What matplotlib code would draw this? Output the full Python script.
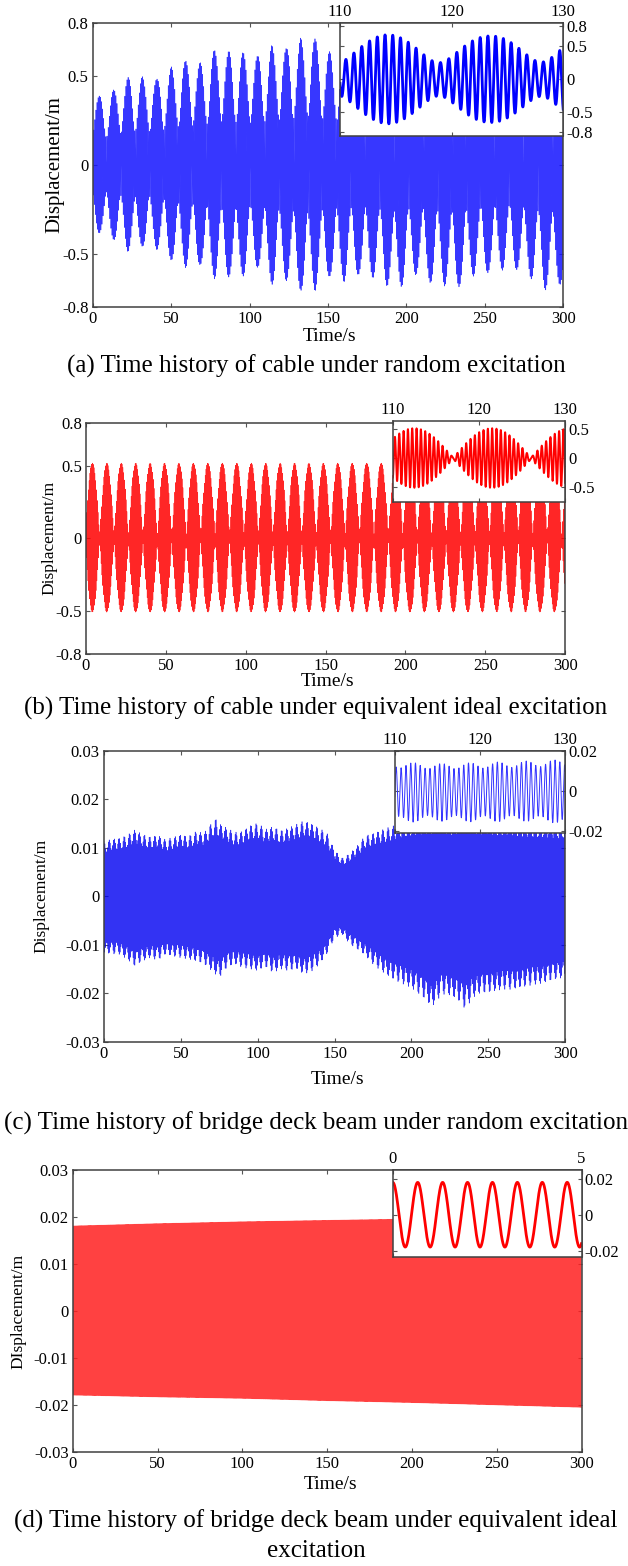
import numpy as np
import matplotlib
matplotlib.use('Agg')
import matplotlib.pyplot as plt

plt.rcParams['font.family'] = ['Liberation Serif', 'DejaVu Serif']
plt.rcParams['axes.unicode_minus'] = False
plt.rcParams['font.size'] = 12

# ---- data ----
time_ticks = [0, 50, 100, 150, 200, 250, 300]

# (a) cable, random excitation: beat peak times and peak values
a_peak_t = [4.1, 13.3, 22.5, 31.6, 40.8, 50.0, 59.2, 68.4, 77.5, 86.7, 95.9,
            105.1, 114.3, 123.4, 132.6, 141.8, 151.0, 160.2, 169.3, 178.5,
            187.7, 196.9, 206.1, 215.2, 224.4, 233.6, 242.8, 252.0, 261.1,
            270.3, 279.5, 288.7, 297.9]
a_upper = [0.388, 0.422, 0.493, 0.497, 0.482, 0.552, 0.586, 0.575, 0.646, 0.640,
           0.633, 0.612, 0.674, 0.655, 0.715, 0.710, 0.637, 0.66, 0.62, 0.63,
           0.68, 0.68, 0.62, 0.66, 0.68, 0.68, 0.63, 0.61, 0.59, 0.59, 0.64,
           0.70, 0.67]
a_lower = [-0.382, -0.420, -0.489, -0.457, -0.476, -0.535, -0.578, -0.560,
           -0.640, -0.630, -0.625, -0.575, -0.672, -0.650, -0.706, -0.709,
           -0.625, -0.659, -0.616, -0.634, -0.681, -0.685, -0.616, -0.662,
           -0.681, -0.685, -0.625, -0.606, -0.592, -0.588, -0.640, -0.704,
           -0.672]

# (b) cable, equivalent ideal excitation
b_peak_t = [4.0, 13.0, 22.1, 31.1, 40.2, 49.2, 58.2, 67.3, 76.3, 85.4, 94.4,
            103.4, 112.5, 121.5, 130.6, 139.6, 148.6, 157.7, 166.7, 175.8,
            184.8, 193.8, 202.9, 211.9, 221.0, 230.0, 239.0, 248.1, 257.1,
            266.2, 275.2, 284.2, 293.3]
b_upper = [0.52, 0.52, 0.52, 0.52, 0.52, 0.52, 0.52, 0.52, 0.52, 0.52, 0.52,
           0.52, 0.52, 0.52, 0.52, 0.52, 0.52, 0.52, 0.52, 0.52, 0.52, 0.52,
           0.52, 0.52, 0.52, 0.52, 0.52, 0.52, 0.52, 0.52, 0.52, 0.52, 0.52]
b_lower = [-0.51, -0.51, -0.51, -0.51, -0.51, -0.51, -0.51, -0.51, -0.51,
           -0.51, -0.51, -0.51, -0.51, -0.51, -0.51, -0.51, -0.51, -0.51,
           -0.51, -0.51, -0.51, -0.51, -0.51, -0.51, -0.51, -0.51, -0.51,
           -0.51, -0.51, -0.51, -0.51, -0.51, -0.51]

# (c) bridge deck beam, random excitation: envelope
c_env_t = [0, 5, 10, 15, 20, 25, 30, 35, 40, 45, 50, 55, 60, 65, 70, 73, 75,
           80, 85, 90, 95, 100, 105, 110, 115, 120, 125, 130, 135, 140, 145,
           150, 155, 160, 165, 170, 175, 180, 185, 190, 200, 210, 213, 220,
           225, 230, 235, 240, 245, 250, 255, 260, 265, 270, 275, 280, 285,
           290, 295, 300]
c_upper = [0.0113, 0.0118, 0.0120, 0.0126, 0.0137, 0.0128, 0.0123, 0.0126,
           0.0117, 0.0122, 0.0127, 0.0124, 0.0134, 0.0130, 0.0151, 0.0160,
           0.0150, 0.0141, 0.0132, 0.0134, 0.0146, 0.0151, 0.0138, 0.0144,
           0.0136, 0.0141, 0.0148, 0.0156, 0.0150, 0.0141, 0.0130, 0.0096,
           0.0079, 0.0089, 0.0105, 0.0125, 0.0130, 0.0136, 0.0142, 0.0147,
           0.0155, 0.0160, 0.0160, 0.0160, 0.0158, 0.0160, 0.0162, 0.0160,
           0.0158, 0.0160, 0.0156, 0.0155, 0.0156, 0.0155, 0.0152, 0.0150,
           0.0152, 0.0150, 0.0148, 0.0150]
c_lower = [-0.0117, -0.0119, -0.0120, -0.0130, -0.0144, -0.0134, -0.0127,
           -0.0132, -0.0120, -0.0124, -0.0127, -0.0130, -0.0134, -0.0140,
           -0.0154, -0.0162, -0.0168, -0.0147, -0.0140, -0.0147, -0.0150,
           -0.0154, -0.0146, -0.0158, -0.0150, -0.0154, -0.0150, -0.0161,
           -0.0155, -0.0141, -0.0120, -0.0086, -0.0079, -0.0099, -0.0110,
           -0.0123, -0.0140, -0.0154, -0.0165, -0.0175, -0.0189, -0.0216,
           -0.0230, -0.0202, -0.0205, -0.0213, -0.0233, -0.0209, -0.0200,
           -0.0199, -0.0195, -0.0192, -0.0193, -0.0189, -0.0186, -0.0182,
           -0.0180, -0.0175, -0.0170, -0.0168]

# (d) bridge deck beam, equivalent ideal excitation: envelope
d_env_t = [0, 50, 100, 150, 200, 250, 300]
d_upper = [0.0181, 0.0186, 0.0190, 0.0193, 0.0196, 0.0200, 0.0205]
d_lower = [-0.0179, -0.0183, -0.0186, -0.0191, -0.0195, -0.0200, -0.0205]

# carrier frequencies (Hz) and beat periods (s)
freq = {'a': 1.41, 'b': 1.94, 'c': 1.77, 'd': 1.515}
beat = {'a': 9.18, 'b': 9.04, 'c': 3.3}

captions = ['(a) Time history of cable under random excitation',
            '(b) Time history of cable under equivalent ideal excitation',
            '(c) Time history of bridge deck beam under random excitation',
            '(d) Time history of bridge deck beam under equivalent ideal\nexcitation']


def signal(t, t0, f1, period, a, et, up, lo):
    if period is None:
        s = np.cos(2 * np.pi * f1 * (t - t0))
    else:
        f2 = f1 + 1.0 / period
        s = a * np.cos(2 * np.pi * f1 * (t - t0)) + (1 - a) * np.cos(2 * np.pi * f2 * (t - t0))
    u = np.interp(t, et, up)
    l = np.interp(t, et, lo)
    return np.where(s > 0, s * u, -s * l)


t = np.linspace(0, 300, 60001)
ya = signal(t, a_peak_t[0], freq['a'], beat['a'], 0.69, a_peak_t, a_upper, a_lower)
yb = signal(t, b_peak_t[0], freq['b'], beat['b'], 0.53, b_peak_t, b_upper, b_lower)
yc = signal(t, 0.0, freq['c'], beat['c'], 0.9, c_env_t, c_upper, c_lower)
yd = signal(t, 0.0, freq['d'], None, 1.0, d_env_t, d_upper, d_lower)

W, H = 628, 1566
fig = plt.figure(figsize=(W / 100, H / 100), dpi=100)


def box(l, tp, r, b):
    return [l / W, 1 - b / H, (r - l) / W, (b - tp) / H]


def style(ax):
    for s in ax.spines.values():
        s.set_color('#404040')
        s.set_linewidth(1.1)
    ax.tick_params(direction='in', length=3, width=0.8, color='#555555',
                   labelsize=12, pad=3)


def fmt(v):
    return '%g' % v


def main_panel(rect, y, color, yticks, ylabel, ylsize, cap, cap_y, xl_y,
               yl_x, xl_x, alpha, lw=0.45):
    ax = fig.add_axes(box(*rect))
    ax.plot(t, y, color=color, lw=lw, alpha=alpha)
    ax.set_xlim(0, 300)
    ax.set_ylim(yticks[0], yticks[-1])
    ax.set_xticks(time_ticks)
    ax.set_xticklabels([str(v) for v in time_ticks])
    ax.set_yticks(yticks)
    ax.set_yticklabels([fmt(v) for v in yticks])
    ax.tick_params(top=True, right=True)
    style(ax)
    fig.text(yl_x / W, 1 - ((rect[1] + rect[3]) / 2) / H, ylabel, rotation=90,
             ha='center', va='center', fontsize=ylsize)
    fig.text(xl_x / W, 1 - xl_y / H, 'Time/s', ha='center', va='center',
             fontsize=14)
    fig.text(316 / W, 1 - cap_y / H, cap, ha='center', va='center',
             fontsize=18, linespacing=1.4)
    return ax


def inset(rect, x, y, color, lw, xlim, xticks, ylim, yticks):
    ax = fig.add_axes(box(*rect), zorder=5)
    ax.set_facecolor('white')
    m = (x >= xlim[0]) & (x <= xlim[1])
    ax.plot(x[m], y[m], color=color, lw=lw)
    ax.set_xlim(*xlim)
    ax.set_ylim(*ylim)
    ax.set_xticks(xticks)
    ax.set_xticklabels([str(v) for v in xticks])
    ax.set_yticks(yticks)
    ax.set_yticklabels([fmt(v) for v in yticks])
    ax.xaxis.tick_top()
    ax.yaxis.tick_right()
    style(ax)
    ax.tick_params(top=True, right=True, bottom=True, left=True,
                   labelbottom=False, labelleft=False, labeltop=True,
                   labelright=True, pad=2)
    return ax


# (a)
main_panel((92.8, 22.7, 563.2, 307.3), ya, '#1414ff', [-0.8, -0.5, 0, 0.5, 0.8],
           'Displacement/m', 15, captions[0], 366.7, 336.7, 55, 329.6, 0.85)
inset((340, 23, 563.2, 135.7), t, ya, '#0000ff', 2.0, (110, 130),
      [110, 120, 130], (-0.85, 0.85), [-0.8, -0.5, 0, 0.5, 0.8])

# (b)
main_panel((86, 422.7, 565.2, 654), yb, '#ff0000', [-0.8, -0.5, 0, 0.5, 0.8],
           'Displacement/m', 12.5, captions[1], 708.3, 681, 49, 327.8, 0.85)
inset((392.8, 420.7, 565.2, 501.7), t, yb, '#ff0000', 1.4, (110, 130),
      [110, 120, 130], (-0.75, 0.65), [-0.5, 0, 0.5])

# (c)
main_panel((104, 750.7, 565.2, 1041.7), yc, '#0000f0',
           [-0.03, -0.02, -0.01, 0, 0.01, 0.02, 0.03],
           'Displacement/m', 12.5, captions[2], 1123.3, 1079, 41, 337, 0.8,
           lw=0.4)
inset((394.8, 750.7, 565.2, 833.3), t, yc, '#3333ff', 0.7, (110, 130),
      [110, 120, 130], (-0.021, 0.02), [-0.02, 0, 0.02])

# (d)
main_panel((72.7, 1170, 581.5, 1452), yd, '#ff2020',
           [-0.03, -0.02, -0.01, 0, 0.01, 0.02, 0.03],
           'DIsplacement/m', 12.5, captions[3], 1536, 1484.3, 18, 330.6, 0.85,
           lw=0.5)
inset((392.8, 1170, 581.5, 1257.3), t, yd, '#ff0000', 2.0, (0, 5),
      [0, 5], (-0.0236, 0.025), [-0.02, 0, 0.02])

fig.savefig('out.png', dpi=100)
